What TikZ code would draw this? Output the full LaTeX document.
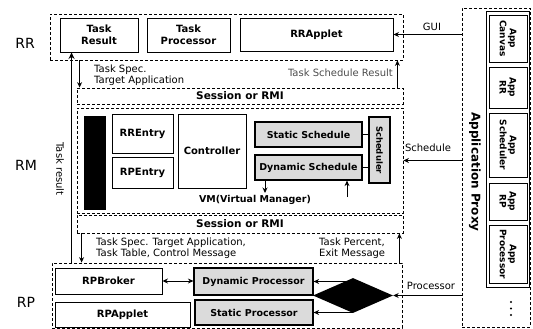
\documentclass[tikz,border=0pt]{standalone}
\usepackage{fontspec}
\setmainfont{DejaVu Sans}
\usetikzlibrary{shapes.geometric,arrows.meta,calc}
\begin{document}
\begin{tikzpicture}[x=1pt,y=-1pt,
  bx/.style={draw, line width=0.9pt, inner sep=0pt, align=center, font=\bfseries\fontsize{10}{11.5}\selectfont},
  gbx/.style={bx, fill=black!14, line width=1.2pt, font=\bfseries\fontsize{9.5}{11}\selectfont},
  dbx/.style={draw, line width=0.8pt, dash pattern=on 3pt off 2pt, inner sep=0pt},
  lbl/.style={font=\fontsize{10}{11}\selectfont, align=left, inner sep=0pt},
  big/.style={font=\fontsize{14}{16}\selectfont, inner sep=0pt},
  sess/.style={dbx, font=\bfseries\fontsize{10.5}{12}\selectfont},
  arr/.style={line width=0.9pt, -{Stealth[length=5.5pt,width=5pt]}},
  darr/.style={line width=0.9pt, {Stealth[length=5.5pt,width=5pt]}-{Stealth[length=5.5pt,width=5pt]}},
  apbx/.style={draw, line width=0.9pt, inner sep=0pt, align=center, rotate=-90, font=\bfseries\fontsize{9}{10}\selectfont},
]
\useasboundingbox (0,0) rectangle (533,329);

% side labels
\node[big] (lrr) at (25,43) {RR};
\node[big] (lrm) at (26,165) {RM};
\node[big] (lrp) at (26,302) {RP};

% RR
\node[dbx, minimum width=353pt, minimum height=46pt] (rr) at (226.5,37) {};
\node[bx, minimum width=78pt, minimum height=34pt] (tr) at (99,35) {Task\\Result};
\node[bx, minimum width=83pt, minimum height=34pt] (tp) at (188.5,35) {Task\\Processor};
\node[bx, minimum width=153pt, minimum height=33pt] (rra) at (316.5,34.5) {RRApplet};

% Session 1
\node[sess, minimum width=326pt, minimum height=16pt] (s1) at (240,96) {Session or RMI};
\node[lbl, anchor=west] (tsa) at (94,75.5) {Task Spec.\\Target Application};
\node[lbl, anchor=east, text=black!70] (tsr) at (393,73) {Task Schedule Result};

% RM
\node[dbx, minimum width=326pt, minimum height=105pt] (rm) at (240,160.5) {};
\node[fill=black, minimum width=22pt, minimum height=94pt, inner sep=0pt] (bar) at (95,163) {};
\node[bx, minimum width=61pt, minimum height=39pt] (rre) at (142.5,133.5) {RREntry};
\node[bx, minimum width=61pt, minimum height=31pt] (rpe) at (142.5,172.5) {RPEntry};
\node[bx, minimum width=68pt, minimum height=74pt] (ctl) at (212,151) {Controller};
\node[gbx, minimum width=107pt, minimum height=25pt] (ss) at (308.5,134.5) {Static Schedule};
\node[gbx, minimum width=107pt, minimum height=25pt] (ds) at (308.5,167.5) {Dynamic Schedule};
\node[gbx, rotate=-90, minimum width=66pt, minimum height=21pt, font=\bfseries\fontsize{8.5}{10}\selectfont] (sch) at (379.5,150) {Scheduler};
\node[font=\bfseries\fontsize{9.5}{11}\selectfont, inner sep=0pt] (vm) at (255,200) {VM(Virtual Manager)};
\coordinate (vmin) at (265,193);
\coordinate (vmout) at (347,197);
\draw[line width=0.9pt] (ss.east) -- (ss.east -| sch.south);
\draw[line width=0.9pt] (ds.east) -- (ds.east -| sch.south);
\draw[arr] (ds.south -| vmin) -- (vmin);
\draw[arr] (vmout) -- (ds.south -| vmout);

% Session 2
\node[sess, minimum width=326pt, minimum height=18pt] (s2) at (240,224) {Session or RMI};
\node[lbl, anchor=west] (tst) at (96,248.5) {Task Spec. Target Application,\\Task Table, Control Message};
\node[lbl, anchor=west] (tpe) at (319,248.5) {Task Percent,\\Exit Message};

% RP
\node[dbx, minimum width=350pt, minimum height=65pt] (rp) at (227,295.5) {};
\node[bx, minimum width=107pt, minimum height=26pt] (rpb) at (108.5,281) {RPBroker};
\node[bx, minimum width=135pt, minimum height=25pt] (rpa) at (122.5,314.5) {RPApplet};
\node[gbx, minimum width=119pt, minimum height=27pt] (dp) at (253.5,281.5) {Dynamic Processor};
\node[gbx, minimum width=118pt, minimum height=25pt] (sp) at (254,312.5) {Static Processor};
\node[diamond, fill=black, minimum width=80pt, minimum height=35pt, inner sep=0pt] (diam) at (353,295.5) {};
\draw[darr] (rpb.east) -- (rpb.east -| dp.west);
\draw[arr] (diam.north |- dp.east) -- (dp.east);
\draw[arr] (diam.south |- sp.east) -- (sp.east);

% vertical arrows
\draw[arr] ([xshift=3pt]s1.north west |- rr.south) -- ([xshift=3pt]s1.north west);
\draw[arr] ([xshift=-6pt]s1.north east) -- ([xshift=-6pt]s1.north east |- rr.south);
\draw[arr] ([xshift=5pt]s2.south west) -- ([xshift=5pt]s2.south west |- rp.north);
\draw[arr] ([xshift=-4pt]s2.south east |- rp.north) -- ([xshift=-4pt]s2.south east);
\draw[line width=1.8pt, -{Stealth[length=6.5pt,width=6pt]}] ([xshift=12pt]tr.south west |- rp.north) -- ([xshift=12pt]tr.south west);
\node[font=\fontsize{10}{12}\selectfont, rotate=-90, inner sep=0pt] (trl) at (60,169) {Task result};

% Application proxy
\node[dbx, minimum width=68pt, minimum height=319pt] (ap) at (496,167.5) {};
\node[draw, line width=1pt, minimum width=43pt, minimum height=275pt, inner sep=0pt] (apin) at (507.5,149.5) {};
\node[apbx, minimum width=47pt, minimum height=38pt] (ac) at (508,38.5) {App\\Canvas};
\node[apbx, minimum width=41pt, minimum height=38pt] (arr2) at (508,87.5) {App\\RR};
\node[apbx, minimum width=64pt, minimum height=38pt] (asc) at (508,145) {App\\Scheduler};
\node[apbx, minimum width=37pt, minimum height=38pt] (arp) at (508,201.5) {App\\RP};
\node[apbx, minimum width=58pt, minimum height=38pt] (apr) at (508,254) {App\\Processor};
\node[font=\bfseries\fontsize{12}{14}\selectfont, rotate=-90, inner sep=0pt] (apl) at (475,172) {Application Proxy};
\foreach \yy in {302,308.5,315} \fill (511,\yy) circle (1.1pt);

% proxy connectors
\draw[arr] (ap.west |- rra.east) -- (rra.east);
\draw[arr] (ap.west |- rm.east) -- (rm.east);
\draw[arr] (ap.west |- diam.east) -- (diam.east);
\node[lbl] (gui) at (432,27) {GUI};
\node[lbl] (schl) at (428,148) {Schedule};
\node[lbl] (procl) at (431,286) {Processor};
\end{tikzpicture}
\end{document}
